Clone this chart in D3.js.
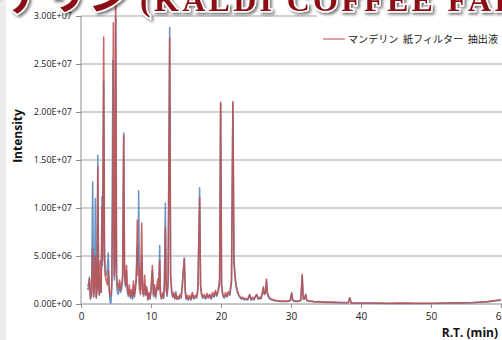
<!DOCTYPE html>
<html><head><meta charset="utf-8">
<script src="https://cdn.jsdelivr.net/npm/d3@7"></script>
<style>html,body{margin:0;padding:0;background:#fff;}svg{display:block;}</style>
</head><body>
<svg id="c" width="502" height="340"></svg>
<script>
// retention time (min)
const rt = [0.90,1.05,1.20,1.35,1.50,1.67,1.80,1.92,2.05,2.18,2.30,2.40,2.52,2.62,2.75,2.88,3.00,3.08,3.24,3.35,3.45,3.60,3.75,3.90,4.02,4.15,4.28,4.40,4.55,4.62,4.75,4.85,4.95,5.08,5.20,5.35,5.50,5.65,5.80,5.95,6.10,6.22,6.35,6.50,6.62,6.75,6.90,7.05,7.20,7.35,7.50,7.62,7.75,7.90,8.05,8.15,8.24,8.35,8.50,8.67,8.80,8.95,9.10,9.25,9.40,9.55,9.70,9.85,10.00,10.20,10.35,10.50,10.65,10.80,10.95,11.10,11.24,11.35,11.50,11.65,11.80,11.92,12.05,12.18,12.30,12.45,12.67,12.80,12.95,13.10,13.25,13.40,13.55,13.70,13.85,14.00,14.15,14.30,14.50,14.76,14.88,15.00,15.15,15.30,15.50,15.70,15.90,16.10,16.30,16.50,16.70,16.95,17.08,17.20,17.40,17.60,17.80,18.00,18.20,18.40,18.60,18.80,19.00,19.20,19.40,19.60,19.80,19.95,20.08,20.25,20.45,20.65,20.85,21.05,21.25,21.50,21.70,21.85,22.00,22.15,22.30,22.50,22.70,22.90,23.10,23.30,23.50,23.80,24.10,24.30,24.50,24.70,24.90,25.10,25.30,25.50,25.70,25.90,26.05,26.20,26.35,26.50,26.62,26.80,27.00,27.30,27.60,28.00,28.50,29.00,29.50,29.90,30.10,30.25,30.60,31.00,31.40,31.60,31.75,31.90,32.10,32.25,32.60,33.00,33.50,34.00,35.00,36.00,37.00,38.20,38.40,38.60,40.00,42.00,44.00,46.00,48.00,50.00,52.00,54.00,56.00,58.00,60.00];
// intensity (x 1E6), paper filter extract (red)
const redVals = [1.9,2.0,2.6,0.6,1.2,5.8,0.8,1.8,5.0,0.7,1.5,14.3,2.0,1.0,4.5,1.2,10.1,4.5,27.8,6.0,3.0,2.5,2.0,3.5,1.5,0.8,1.0,2.0,12.0,29.3,3.0,5.0,34.0,3.0,2.0,1.5,2.5,1.5,2.0,3.0,17.6,3.0,2.0,4.0,1.5,1.0,2.0,0.8,1.5,0.7,2.4,0.9,1.5,2.5,8.75,3.0,4.0,1.5,1.0,8.4,1.5,1.0,3.0,1.0,1.8,0.5,1.2,0.6,1.5,4.0,1.0,2.0,0.8,1.5,2.6,1.5,4.5,1.0,0.6,1.2,0.7,2.0,8.0,1.5,1.0,2.5,27.7,3.0,1.5,0.8,1.2,0.6,1.0,0.5,0.8,0.6,1.0,0.7,2.0,4.7,1.5,0.6,0.9,0.5,0.9,0.5,1.2,0.6,0.9,0.7,1.5,11.1,2.0,1.2,0.7,1.0,0.6,1.1,0.7,1.0,0.6,1.2,0.8,1.4,0.9,1.5,2.5,21.0,2.0,1.0,0.7,1.2,0.8,1.3,1.0,2.5,21.1,4.6,3.0,2.0,1.5,1.0,0.8,0.6,0.7,0.5,0.6,0.5,1.0,0.5,0.7,0.5,0.8,1.0,0.6,0.7,0.6,1.2,1.8,1.0,1.2,2.6,1.2,0.8,0.6,0.5,0.4,0.35,0.3,0.3,0.3,0.4,1.1,0.4,0.3,0.3,0.4,3.1,0.6,0.5,1.0,0.4,0.3,0.3,0.2,0.25,0.2,0.2,0.15,0.15,0.65,0.12,0.1,0.1,0.08,0.1,0.08,0.08,0.1,0.12,0.15,0.25,0.45];
// intensity (x 1E6), second trace (blue)
const blueVals = [1.7,1.5,2.8,0.5,1.0,12.7,0.7,1.5,11.0,0.6,1.8,15.5,1.8,0.9,3.0,1.2,11.2,4.0,23.2,5.0,3.5,3.0,3.5,5.3,2.0,0.2,0.1,1.5,25.4,10.0,2.5,4.0,30.0,2.0,1.2,1.0,2.2,1.2,1.5,2.5,17.8,3.0,1.8,3.5,1.3,0.8,1.5,0.6,1.2,0.5,2.0,0.7,1.4,3.0,6.0,4.0,11.8,2.0,1.5,4.8,1.2,0.8,2.0,0.9,1.5,0.4,1.0,0.5,1.2,3.5,0.8,1.8,0.6,1.2,2.0,1.5,6.1,1.0,0.5,1.0,0.6,2.5,10.5,1.5,0.8,2.0,28.8,3.0,1.2,0.7,1.0,0.5,1.3,0.5,0.6,0.5,0.8,0.6,2.5,4.8,1.5,0.5,0.8,0.4,0.7,0.4,1.0,0.5,0.8,0.6,1.5,12.1,2.0,1.0,0.6,0.8,0.5,0.9,0.6,0.9,0.5,1.0,0.7,1.2,0.8,1.3,2.0,20.8,2.0,0.9,0.6,1.0,0.7,1.1,0.9,2.2,20.9,4.3,2.8,1.8,1.3,0.9,0.7,0.5,0.6,0.4,0.5,0.4,0.9,0.4,0.6,0.4,0.7,0.9,0.5,0.6,0.5,1.0,1.6,1.0,1.1,2.4,1.1,0.7,0.5,0.4,0.35,0.3,0.25,0.25,0.25,0.35,1.2,0.35,0.25,0.25,0.35,2.9,0.5,0.5,1.0,0.35,0.25,0.25,0.2,0.2,0.15,0.15,0.12,0.12,0.6,0.1,0.08,0.08,0.06,0.08,0.06,0.06,0.08,0.1,0.12,0.22,0.4];
const xTicks = [0,10,20,30,40,50,60];
const yTicks = [0,5,10,15,20,25,30]; // x 1E6
const legendLabel = "マンデリン  紙フィルター  抽出液";
const titleJa = "マンデリン";
const titleEn = "(KALDI COFFEE FARM)";

const svg = d3.select("#c");
const x = d3.scaleLinear().domain([0,60]).range([81,501]);
const y = d3.scaleLinear().domain([0,30]).range([304,16]);

// left strip
svg.append("rect").attr("x",0).attr("y",0).attr("width",6).attr("height",340).attr("fill","#ececec");

const fmt = v => {
  const n = v*1e6;
  if (n === 0) return "0.00E+00";
  const e = Math.floor(Math.log10(n));
  const m = n/Math.pow(10,e);
  return m.toFixed(2)+"E+"+String(e).padStart(2,"0");
};

// gridlines
svg.append("g").selectAll("line").data(yTicks.filter(d=>d>0)).join("line")
  .attr("x1",81).attr("x2",502).attr("y1",d=>y(d)).attr("y2",d=>y(d))
  .attr("stroke","#a6a6a6").attr("stroke-width",1.2);

// y axis
const ya = svg.append("g").attr("transform","translate(81,0)")
  .call(d3.axisLeft(y).tickValues(yTicks).tickFormat(fmt).tickSize(5).tickPadding(4));
ya.select(".domain").attr("stroke","#8c8c8c").attr("d","M0,"+y(30)+"V"+y(0));
ya.selectAll(".tick line").attr("stroke","#8c8c8c");
ya.selectAll("text").attr("font-family","'Open Sans',Arial,sans-serif").attr("font-size","9px").attr("fill","#222");

// x axis
const xa = svg.append("g").attr("transform","translate(0,304)")
  .call(d3.axisBottom(x).tickValues(xTicks).tickFormat(d3.format("d")).tickSize(4).tickPadding(5));
xa.select(".domain").attr("stroke","#8c8c8c").attr("d","M81,0H502");
xa.selectAll(".tick line").attr("stroke","#8c8c8c");
xa.selectAll("text").attr("font-family","'Open Sans',Arial,sans-serif").attr("font-size","10px").attr("fill","#222");

// traces
const line = vals => d3.line().x((d,i)=>x(rt[i])).y(d=>y(d))(vals);
svg.append("path").attr("d",line(blueVals)).attr("fill","none")
  .attr("stroke","#4f81bd").attr("stroke-width",1.5).attr("stroke-opacity",0.85).attr("stroke-linejoin","round");
svg.append("path").attr("d",line(redVals)).attr("fill","none")
  .attr("stroke","#c0504d").attr("stroke-width",1.6).attr("stroke-opacity",0.85).attr("stroke-linejoin","round");

// axis titles
svg.append("text").attr("transform","translate(22,136) rotate(-90)").attr("text-anchor","middle")
  .attr("font-family","'Open Sans',Arial,sans-serif").attr("font-weight","bold").attr("font-size","12px").attr("fill","#111").text("Intensity");
svg.append("text").attr("x",498).attr("y",337).attr("text-anchor","end")
  .attr("font-family","'Open Sans',Arial,sans-serif").attr("font-weight","bold").attr("font-size","12px").attr("fill","#111").text("R.T. (min)");

// legend
svg.append("rect").attr("x",317).attr("y",10).attr("width",185).attr("height",45).attr("fill","#fff");
svg.append("line").attr("x1",323).attr("x2",345).attr("y1",39).attr("y2",39).attr("stroke","#c0504d").attr("stroke-opacity",0.7).attr("stroke-width",1.5);
svg.append("text").attr("x",348).attr("y",43).attr("font-family","'Noto Sans CJK JP',sans-serif")
  .attr("font-size","10px").attr("fill","#222").attr("xml:space","preserve")
  .attr("textLength",150).attr("lengthAdjust","spacingAndGlyphs").text(legendLabel);

// banner title
const defs = svg.append("defs");
const f = defs.append("filter").attr("id","sh").attr("x","-10%").attr("y","-50%").attr("width","120%").attr("height","200%");
f.append("feGaussianBlur").attr("in","SourceAlpha").attr("stdDeviation",1.8).attr("result","b");
f.append("feOffset").attr("in","b").attr("dx",2).attr("dy",2).attr("result","o");
f.append("feComponentTransfer").attr("in","o").attr("result","o2").append("feFuncA").attr("type","linear").attr("slope",0.55);
const m = f.append("feMerge"); m.append("feMergeNode").attr("in","o2"); m.append("feMergeNode").attr("in","SourceGraphic");
const banner = svg.append("g").attr("filter","url(#sh)");
banner.append("text").attr("x",130).attr("y",10).attr("text-anchor","end")
  .attr("font-family","'Noto Sans CJK JP',sans-serif").attr("font-weight","bold").attr("font-size","42px")
  .attr("fill","#8b0f14").attr("stroke","#fff").attr("stroke-width",3).attr("paint-order","stroke").text(titleJa);
banner.append("text").attr("x",140).attr("y",11)
  .attr("font-family","'Liberation Serif',serif").attr("font-weight","bold").attr("font-size","32px")
  .attr("textLength",425).attr("lengthAdjust","spacing")
  .attr("fill","#8b0f14").attr("stroke","#fff").attr("stroke-width",3).attr("paint-order","stroke").text(titleEn);
</script>
</body></html>
